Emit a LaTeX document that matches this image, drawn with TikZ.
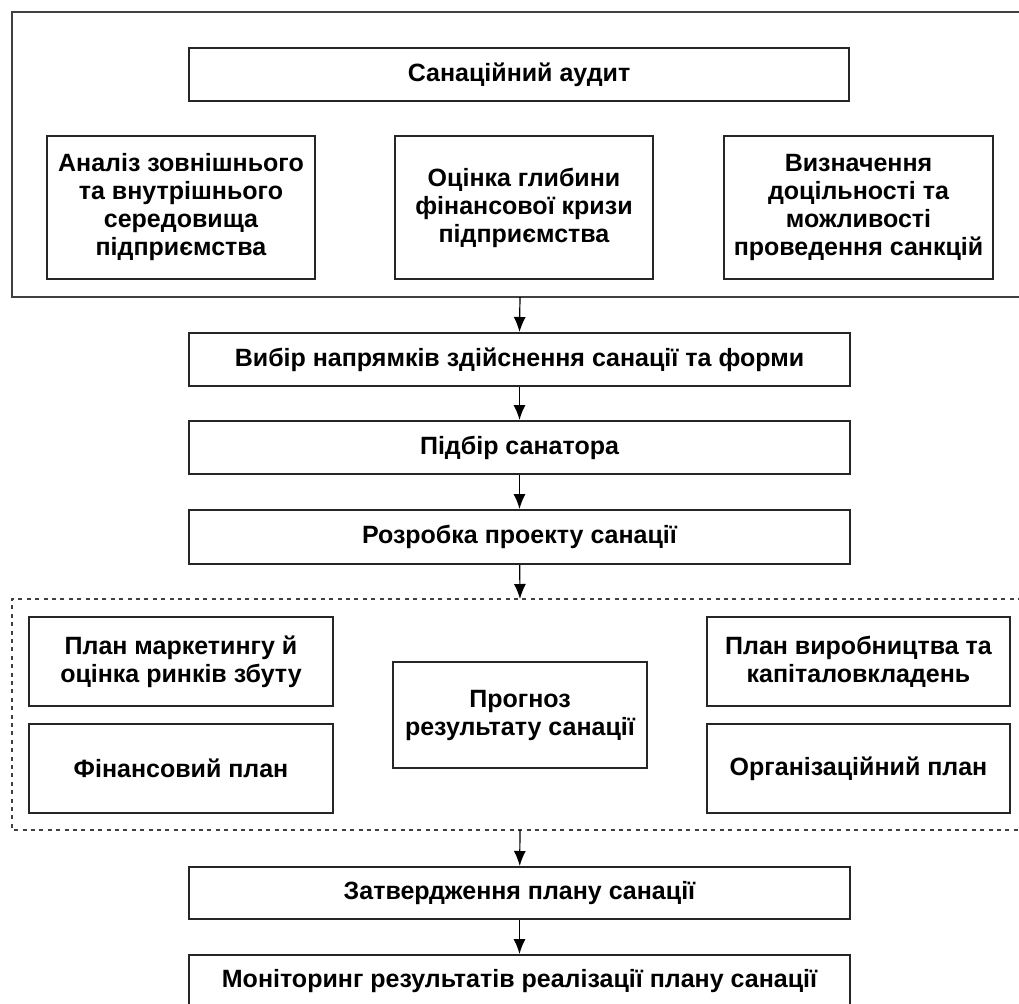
\documentclass[tikz,border=0pt]{standalone}
\usepackage{fontspec}
\setmainfont{Liberation Sans}
\usetikzlibrary{arrows.meta}

\tikzset{
  box/.style={draw=black!85, line width=1pt, fill=white, align=center,
    inner sep=2pt, font=\bfseries\fontsize{12.5}{14}\selectfont},
  frame/.style={draw=black!75, line width=1pt},
  link/.style={->, line width=0.6pt}
}

\begin{document}
\begin{tikzpicture}[x=0.5pt, y=-0.5pt, line join=miter, >={Latex[length=7.5pt,width=6pt]}]
        \useasboundingbox (0,0) rectangle (1019,1003);

        % Santsiinyi audyt (bovenste kader)
        \draw[frame] (1022,12) -- (12,12) -- (12,297) -- (1022,297);
        \coordinate (auditbot) at (520,297);
        \node[box, minimum width=330pt, minimum height=26.5pt] (audit) at (519,74.5) {Санаційний аудит};
        \node[box, minimum width=134pt, minimum height=71.5pt] (analiz) at (181,207.5)
              {Аналіз зовнішнього\\та внутрішнього\\середовища\\підприємства};
        \node[box, minimum width=129pt, minimum height=71.5pt] (kryza) at (524,207.5)
              {Оцінка глибини\\фінансової кризи\\підприємства};
        \node[box, minimum width=134.5pt, minimum height=71.5pt] (docil) at (858.5,207.5)
              {Визначення\\доцільності та\\можливості\\проведення санкцій};

        % Stappen
        \node[box, minimum width=330.5pt, minimum height=26.5pt] (vybir) at (519.5,359.5)
              {Вибір напрямків здійснення санації та форми};
        \node[box, minimum width=330.5pt, minimum height=26.5pt] (pidbir) at (519.5,447.5)
              {Підбір санатора};
        \node[box, minimum width=330.5pt, minimum height=27pt] (rozrobka) at (519.5,537)
              {Розробка проекту санації};

        % Proekt sanatsii (gestippeld kader)
        \draw[frame, dashed, dash pattern=on 2pt off 2.2pt] (1022,599) -- (12,599) -- (12,830) -- (1022,830);
        \coordinate (planstop) at (520,599);
        \coordinate (plansbot) at (520,830);
        \node[box, minimum width=152pt, minimum height=44.5pt] (marketing) at (181,661.5)
              {План маркетингу й\\оцінка ринків збуту};
        \node[box, minimum width=152pt, minimum height=44.5pt] (finplan) at (181,768.5)
              {Фінансовий план};
        \node[box, minimum width=127pt, minimum height=53pt] (prognoz) at (520,715)
              {Прогноз\\результату санації};
        \node[box, minimum width=151.5pt, minimum height=44.5pt] (vyrob) at (858.5,661.5)
              {План виробництва та\\капіталовкладень};
        \node[box, minimum width=151.5pt, minimum height=44.5pt] (orgplan) at (858.5,768.5)
              {Організаційний план};

        % Afronding
        \node[box, minimum width=330.5pt, minimum height=26pt] (zatv) at (519.5,893)
              {Затвердження плану санації};
        \node[box, minimum width=330.5pt, minimum height=26.5pt] (monit) at (519.5,981.5)
              {Моніторинг результатів реалізації плану санації};

        % Pijlen
        \draw[link] (auditbot) -- (vybir.north);
        \draw[link] (vybir) -- (pidbir);
        \draw[link] (pidbir) -- (rozrobka);
        \draw[link] (rozrobka) -- (planstop);
        \draw[link] (plansbot) -- (zatv);
        \draw[link] (zatv) -- (monit);
      \end{tikzpicture}
\end{document}
